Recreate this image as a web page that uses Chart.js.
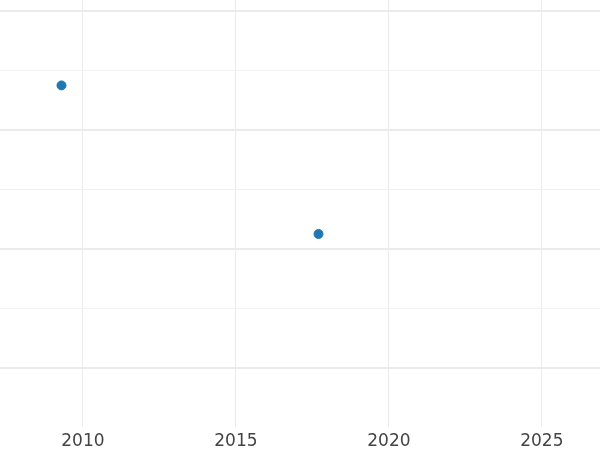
<!DOCTYPE html>
<html>
<head>
<meta charset="utf-8">
<script src="https://cdn.jsdelivr.net/npm/chart.js@4/dist/chart.umd.min.js"></script>
<style>
  html, body { margin: 0; padding: 0; background: #fff; }
  #wrap { width: 600px; height: 450px; }
</style>
</head>
<body>
<div id="wrap"><canvas id="chart"></canvas></div>
<script>
const years = [2009.30, 2017.70];
const values = [2.374, 1.124];
const xTicks = [2010, 2015, 2020, 2025];
const yTicks = [0, 0.5, 1, 1.5, 2, 2.5, 3];

const points = years.map((x, i) => ({ x: x, y: values[i] }));

new Chart(document.getElementById('chart'), {
  type: 'scatter',
  data: {
    datasets: [{
      data: points,
      backgroundColor: '#1f77b4',
      borderColor: '#1f77b4',
      pointRadius: 4.5,
      pointHoverRadius: 4.5
    }]
  },
  options: {
    responsive: true,
    maintainAspectRatio: false,
    animation: false,
    layout: { padding: 0, autoPadding: false },
    plugins: {
      legend: { display: false },
      tooltip: { enabled: false }
    },
    scales: {
      x: {
        type: 'linear',
        min: 2007.29,
        max: 2026.90,
        border: { display: false },
        grid: { color: '#ebebeb', lineWidth: 1, drawTicks: false },
        afterBuildTicks: (scale) => { scale.ticks = xTicks.map(v => ({ value: v })); },
        afterFit: (scale) => { scale.height = 23; },
        ticks: {
          padding: 4,
          color: '#444',
          font: { family: 'DejaVu Sans', size: 17 },
          callback: (v) => String(v)
        }
      },
      y: {
        type: 'linear',
        min: -0.5,
        max: 3.0924,
        border: { display: false },
        grid: {
          drawTicks: false,
          color: (ctx) => (ctx.tick && Number.isInteger(ctx.tick.value)) ? '#ebebeb' : '#f2f2f2',
          lineWidth: (ctx) => (ctx.tick && Number.isInteger(ctx.tick.value)) ? 2 : 1
        },
        afterBuildTicks: (scale) => { scale.ticks = yTicks.map(v => ({ value: v })); },
        ticks: { display: false }
      }
    }
  }
});
</script>
</body>
</html>
